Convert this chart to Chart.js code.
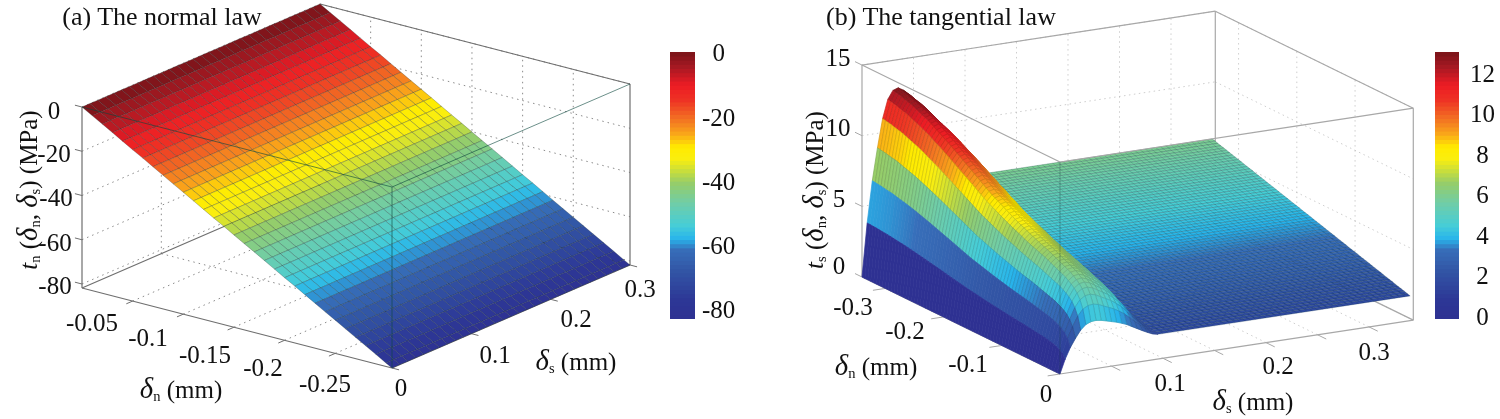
<!DOCTYPE html>
<html><head><meta charset="utf-8">
<script src="https://cdn.jsdelivr.net/npm/chart.js@4"></script>
<style>
html,body{margin:0;padding:0;background:#fff;width:1500px;height:419px;overflow:hidden}
canvas{position:absolute;top:0}
.l{position:absolute;font-family:"Liberation Serif",serif;color:#111;white-space:nowrap;transform:translate(-50%,-50%);line-height:1}
.l i{font-style:italic}.l i.d{font-size:115%}.l sub{font-size:58%;line-height:0;vertical-align:-0.25em}
</style></head><body>
<canvas id="a" width="660" height="419" style="left:0"></canvas>
<canvas id="ca" width="90" height="419" style="left:670px"></canvas>
<canvas id="b" width="650" height="419" style="left:780px"></canvas>
<canvas id="cb" width="65" height="419" style="left:1435px"></canvas>
<script>
// ---------- panel (a) data ----------
const deltaNA=[0,-0.01,-0.02,-0.03,-0.04,-0.05,-0.06,-0.07,-0.08,-0.09,-0.1,-0.11,-0.12,-0.13,-0.14,-0.15,-0.16,-0.17,-0.18,-0.19,-0.2,-0.21,-0.22,-0.23,-0.24,-0.25,-0.26,-0.27,-0.28,-0.29,-0.3,-0.306];
const deltaSA=[0,0.01,0.02,0.03,0.04,0.05,0.06,0.07,0.08,0.09,0.1,0.11,0.12,0.13,0.14,0.15,0.16,0.17,0.18,0.19,0.2,0.21,0.22,0.23,0.24,0.25,0.26,0.27,0.28,0.29,0.3];
const tnValues=[0,-2.7,-5.3,-8,-10.7,-13.4,-16,-18.7,-21.4,-24.1,-26.7,-29.4,-32.1,-34.8,-37.4,-40.1,-42.8,-45.4,-48.1,-50.8,-53.5,-56.1,-58.8,-61.5,-64.2,-66.8,-69.5,-72.2,-74.8,-77.5,-80.2,-81.8];
const ticksNA=[-0.05,-0.1,-0.15,-0.2,-0.25];
const ticksSA=[0.1,0.2,0.3];
const ticksZA=[0,-20,-40,-60,-80];
const colorbarTicksA=[0,-20,-40,-60,-80];
// ---------- panel (b) data ----------
const deltaNB=[-0.34,-0.335,-0.33,-0.325,-0.32,-0.315,-0.31,-0.305,-0.3,-0.295,-0.29,-0.285,-0.28,-0.275,-0.27,-0.265,-0.26,-0.255,-0.25,-0.245,-0.24,-0.235,-0.23,-0.225,-0.22,-0.215,-0.21,-0.205,-0.2,-0.195,-0.19,-0.185,-0.18,-0.175,-0.17,-0.165,-0.16,-0.155,-0.15,-0.145,-0.14,-0.135,-0.13,-0.125,-0.12,-0.115,-0.11,-0.105,-0.1,-0.095,-0.09,-0.085,-0.08,-0.075,-0.07,-0.065,-0.06,-0.055,-0.05,-0.045,-0.04,-0.035,-0.03,-0.025,-0.02,-0.015,-0.01,-0.005,0];
const deltaSB=[0,0.005,0.01,0.015,0.02,0.025,0.03,0.035,0.04,0.045,0.05,0.055,0.06,0.065,0.07,0.075,0.08,0.085,0.09,0.095,0.1,0.105,0.11,0.115,0.12,0.125,0.13,0.135,0.14,0.145,0.15,0.155,0.16,0.165,0.17,0.175,0.18,0.185,0.19,0.195,0.2,0.205,0.21,0.215,0.22,0.225,0.23,0.235,0.24,0.245,0.25,0.255,0.26,0.265,0.27,0.275,0.28,0.285,0.29,0.295,0.3,0.305,0.31,0.315,0.32,0.325,0.33,0.335,0.34];
const peakByN=[13.0,12.95,12.9,12.85,12.77,12.7,12.65,12.58,12.47,12.37,12.27,12.17,12.07,11.96,11.85,11.71,11.58,11.45,11.32,11.19,11.05,10.91,10.76,10.62,10.47,10.32,10.18,10.03,9.88,9.74,9.59,9.44,9.29,9.15,9.0,8.88,8.77,8.65,8.53,8.41,8.3,8.18,8.07,7.97,7.87,7.77,7.67,7.56,7.46,7.37,7.28,7.2,7.11,7.03,6.94,6.84,6.73,6.63,6.53,6.42,6.33,6.22,6.06,5.9,5.71,5.45,5.05,4.45,3.4];
const residualByN=[6.00,5.94,5.88,5.81,5.75,5.69,5.63,5.56,5.50,5.44,5.38,5.31,5.25,5.19,5.13,5.06,5.00,4.94,4.88,4.81,4.75,4.69,4.63,4.56,4.50,4.44,4.38,4.31,4.25,4.19,4.13,4.06,4.00,3.94,3.88,3.81,3.75,3.69,3.63,3.56,3.50,3.44,3.38,3.31,3.25,3.19,3.13,3.06,3.00,2.94,2.88,2.81,2.75,2.69,2.63,2.56,2.50,2.44,2.38,2.31,2.25,2.19,2.13,2.06,2.00,1.94,1.88,1.81,1.75];
const peakShareByS=[0,.29,.515,.69,.845,.945,.99,1,.97,.91,.85,.79,.71,.62,.5,.38,.26,.15,.05,0];
const residualShareByS=[0,0,0,0,0,0,0,0,.03,.09,.15,.21,.29,.38,.5,.62,.74,.85,.95,1];
const ticksNB=[-0.3,-0.2,-0.1];
const ticksSB=[0.05,0.1,0.15,0.2,0.25,0.3];
const ticksZB=[0,5,10,15];
const colorbarTicksB=[0,2,4,6,8,10,12];
// ---------- colour map: share of the bar, r, g, b ----------
const mapShare=[0,.07,.18,.26,.30,.35,.43,.51,.555,.60,.645,.69,.753,.82,.876,.94,1];
const mapRed=[46,45,50,55,40,70,110,150,200,250,255,250,242,238,237,170,120];
const mapGreen=[49,55,85,110,180,205,205,205,222,238,235,170,110,50,28,25,20];
const mapBlue=[146,150,165,185,235,215,170,105,60,15,0,25,35,36,36,35,25];

function mapColor(f,k2){
  f=Math.max(0,Math.min(1,f));let k=0;
  while(k<mapShare.length-2&&f>mapShare[k+1])k++;
  const u=(f-mapShare[k])/(mapShare[k+1]-mapShare[k]);
  const m=a=>Math.round((a[k]+(a[k+1]-a[k])*u)*(k2||1));
  return `rgb(${m(mapRed)},${m(mapGreen)},${m(mapBlue)})`;
}
const barA=[-82.2,0.9], barB=[-0.05,13.14];
const colA=v=>mapColor((v-barA[0])/(barA[1]-barA[0]));
const colB=(v,k2)=>mapColor((v-barB[0])/(barB[1]-barB[0]),k2);

// projections from data to the page plane
const projA=(n,s,z)=>({x:82+n/-0.306*310+s/0.3*238, y:288+n/-0.306*80-s/0.3*103-(z+81.8)*2.2125});
const projB=(n,s,z)=>({x:1060+n/0.34*198+s*1030, y:374+n/0.34*97-s*157-z*14.13});

function line(pts,color,width,dash){return {data:pts,showLine:true,borderColor:color,borderWidth:width,borderDash:dash||[100,0],pointRadius:0,fill:false};}
function cell(pts,bg,edge,width){return {data:pts.concat([pts[0]]),showLine:true,backgroundColor:bg,borderColor:edge,borderWidth:width,borderDash:[100,0],pointRadius:0,fill:'shape'};}

function sceneChart(id,xmin,xmax,painted){
  return new Chart(document.getElementById(id),{type:'scatter',
    data:{datasets:painted.slice().reverse()},
    options:{responsive:false,animation:false,events:[],devicePixelRatio:1,parsing:false,normalized:false,
      layout:{padding:0},
      plugins:{legend:{display:false},tooltip:{enabled:false}},
      scales:{x:{type:'linear',display:false,min:xmin,max:xmax},y:{type:'linear',display:false,min:0,max:419,reverse:true}}}});
}
function colorbar(id,range,ticks,colFn,axisWidth,pad){
  const N=64,ds=[];const st=(range[1]-range[0])/N;
  for(let k=0;k<N;k++){const lo=range[0]+k*st;
    ds.push({data:[[lo,Math.min(range[1],lo+st*1.15)]],backgroundColor:colFn(lo+st/2),borderWidth:0,barPercentage:1,categoryPercentage:1,grouped:false,order:N-k});}
  return new Chart(document.getElementById(id),{type:'bar',data:{labels:['c'],datasets:ds},
    options:{responsive:false,animation:false,events:[],devicePixelRatio:1,
      layout:{padding:{top:52,bottom:100,left:0,right:0}},
      plugins:{legend:{display:false},tooltip:{enabled:false}},
      scales:{x:{display:false},
        y:{position:'right',min:range[0],max:range[1],grid:{display:false,drawTicks:false},border:{display:false},
           afterBuildTicks:s=>{s.ticks=ticks.map(v=>({value:v}));},
           afterFit:s=>{s.width=axisWidth;},
           ticks:{padding:pad,crossAlign:'center',color:'#111',font:{family:'"Liberation Serif"',size:25},autoSkip:false,maxRotation:0,callback:v=>String(v)}}}}});
}

// ---------- panel (a) scene ----------
(function(){
  const nE=-0.306,sE=0.3,zB=-81.8,zT=0,P=[];
  const dot='rgba(110,110,110,.8)',box='#6f6f6f',dash=[1.5,4];
  const L=(a,b,c,w,d)=>P.push(line([projA(...a),projA(...b)],c,w,d));
  ticksZA.forEach(z=>{L([0,0,z],[0,sE,z],dot,1,dash);L([0,sE,z],[nE,sE,z],dot,1,dash);});
  ticksSA.forEach(s=>{L([0,s,zB],[nE,s,zB],dot,1,dash);L([0,s,zB],[0,s,zT],dot,1,dash);});
  ticksNA.forEach(n=>{L([n,0,zB],[n,sE,zB],dot,1,dash);L([n,sE,zB],[n,sE,zT],dot,1,dash);});
  L([0,0,zB],[0,0,zT],box,1.2);L([0,0,zB],[0,sE,zB],box,1.2);L([0,sE,zB],[nE,sE,zB],box,1.2);
  L([0,sE,zT],[nE,sE,zT],box,1.2);L([nE,sE,zB],[nE,sE,zT],box,1.2);L([0,0,zB],[nE,0,zB],box,1.2);L([nE,0,zB],[nE,sE,zB],box,1.2);
  ticksZA.forEach(z=>L([0.007,0,z],[0,0,z],box,1));
  ticksNA.forEach(n=>L([n,-0.008,zB],[n,0,zB],box,1));
  ticksSA.concat([0]).forEach(s=>L([nE-0.007,s,zB],[nE,s,zB],box,1));
  for(let i=0;i<deltaNA.length-1;i++)for(let j=deltaSA.length-2;j>=0;j--){
    const z0=tnValues[i],z1=tnValues[i+1];
    P.push(cell([projA(deltaNA[i],deltaSA[j],z0),projA(deltaNA[i],deltaSA[j+1],z0),projA(deltaNA[i+1],deltaSA[j+1],z1),projA(deltaNA[i+1],deltaSA[j],z1)],colA(z0),'rgba(25,45,45,.42)',.65));
  }
  const over='rgba(10,70,60,.6)';
  L([0,0,zT],[nE,0,zT],over,1);L([nE,0,zT],[nE,sE,zT],over,1);L([nE,0,zB],[nE,0,zT],over,1);
  sceneChart('a',0,660,P);
})();
// ---------- panel (b) scene ----------
(function(){
  const nE=-0.34,sE=0.343,zB=0,zT=15,P=[];
  const dot='rgba(185,185,185,.7)',box='#a8a8a8',dash=[1.5,3.5];
  const L=(a,b,c,w,d)=>P.push(line([projB(...a),projB(...b)],c,w,d));
  const ts=(i,j)=>j<peakShareByS.length?peakByN[i]*peakShareByS[j]+residualByN[i]*residualShareByS[j]:residualByN[i];
  ticksZB.forEach(z=>{L([nE,0,z],[nE,sE,z],dot,1,dash);L([nE,sE,z],[0,sE,z],dot,1,dash);});
  ticksSB.forEach(s=>{L([0,s,zB],[nE,s,zB],dot,1,dash);L([nE,s,zB],[nE,s,zT],dot,1,dash);});
  ticksNB.forEach(n=>{L([n,0,zB],[n,sE,zB],dot,1,dash);L([n,sE,zB],[n,sE,zT],dot,1,dash);});
  L([nE,0,zB],[nE,0,zT],box,1.2);L([nE,0,zT],[nE,sE,zT],box,1.2);L([nE,sE,zT],[0,sE,zT],box,1.2);L([nE,sE,zB],[nE,sE,zT],box,1.2);
  L([nE,sE,zB],[0,sE,zB],box,1.2);L([0,sE,zB],[0,sE,zT],box,1.2);L([nE,0,zB],[0,0,zB],box,1.2);L([0,0,zB],[0,sE,zB],box,1.2);
  ticksZB.forEach(z=>L([nE-0.012,0,z],[nE,0,z],box,1));
  ticksNB.concat([0]).forEach(n=>L([n,-0.012,zB],[n,0,zB],box,1));
  ticksSB.forEach(s=>L([0.015,s,zB],[0,s,zB],box,1));
  const jEnd=deltaSB.length-1,jPlane=peakShareByS.length-1;
  // flat part: one long strip per row, then the cross lines
  for(let i=0;i<deltaNB.length-1;i++){
    P.push(cell([projB(deltaNB[i],deltaSB[jPlane],ts(i,jPlane)),projB(deltaNB[i],deltaSB[jEnd],ts(i,jEnd)),projB(deltaNB[i+1],deltaSB[jEnd],ts(i+1,jEnd)),projB(deltaNB[i+1],deltaSB[jPlane],ts(i+1,jPlane))],colB(residualByN[i]),'rgba(0,40,50,.36)',.6));
  }
  for(let j=jPlane+1;j<jEnd;j++){P.push(line(deltaNB.map((n,i)=>projB(n,deltaSB[j],ts(i,j))),'rgba(0,40,50,.3)',.5));}
  // hump: far to near
  for(let j=jPlane-1;j>=0;j--)for(let i=0;i<deltaNB.length-1;i++){
    const v=ts(i,j);
    P.push(cell([projB(deltaNB[i],deltaSB[j],ts(i,j)),projB(deltaNB[i],deltaSB[j+1],ts(i,j+1)),projB(deltaNB[i+1],deltaSB[j+1],ts(i+1,j+1)),projB(deltaNB[i+1],deltaSB[j],ts(i+1,j))],colB(v),colB(v,j<2?1:.84),.7));
  }
  L([nE,0,zT],[0,0,zT],box,1.2);L([0,0,zT],[0,sE,zT],box,1.2);L([0,0,zB],[0,0,zT],'rgba(20,60,60,.4)',.8);
  sceneChart('b',780,1430,P);
})();
colorbar('ca',barA,colorbarTicksA,colA,65,7);
colorbar('cb',barB,colorbarTicksB,v=>colB(v),41,11);

// ---------- text ----------
function T(x,y,html,size,rot){const e=document.createElement('div');e.className='l';e.innerHTML=html;e.style.left=x+'px';e.style.top=y+'px';e.style.fontSize=(size||25)+'px';
  if(rot)e.style.transform='translate(-50%,-50%) rotate(-90deg)';document.body.appendChild(e);}
const sn='<i class="d">δ</i><sub>n</sub>',ss='<i class="d">δ</i><sub>s</sub>';
T(162,17,'(a) The normal law',26);T(941,17,'(b) The tangential law',26);
[[54,110,'0'],[54,153,'-20'],[56,197,'-40'],[55,242,'-60'],[55,285,'-80'],
 [92,322,'-0.05'],[148,337,'-0.1'],[205,354,'-0.15'],[263,367,'-0.2'],[325,383,'-0.25'],
 [401,387,'0'],[495,354,'0.1'],[576,318,'0.2'],[640,288,'0.3'],
 [838,57,'15'],[838,127,'10'],[839,198,'5'],[839,265,'0'],
 [853,306,'-0.3'],[905,330,'-0.2'],[968,363,'-0.1'],[1046,393,'0'],
 [1170,382,'0.1'],[1278,365,'0.2'],[1374,351,'0.3']].forEach(r=>T(r[0],r[1],r[2],25));
T(181,388,sn+' (mm)',25);T(576,360,ss+' (mm)',25);T(876,365,sn+' (mm)',25);T(1253,400,ss+' (mm)',25);
T(27,190,'<i>t</i><sub>n</sub> ('+sn+', '+ss+') (MPa)',25,true);
T(813,190,'<i>t</i><sub>s</sub> ('+sn+', '+ss+') (MPa)',25,true);
</script>
</body></html>
